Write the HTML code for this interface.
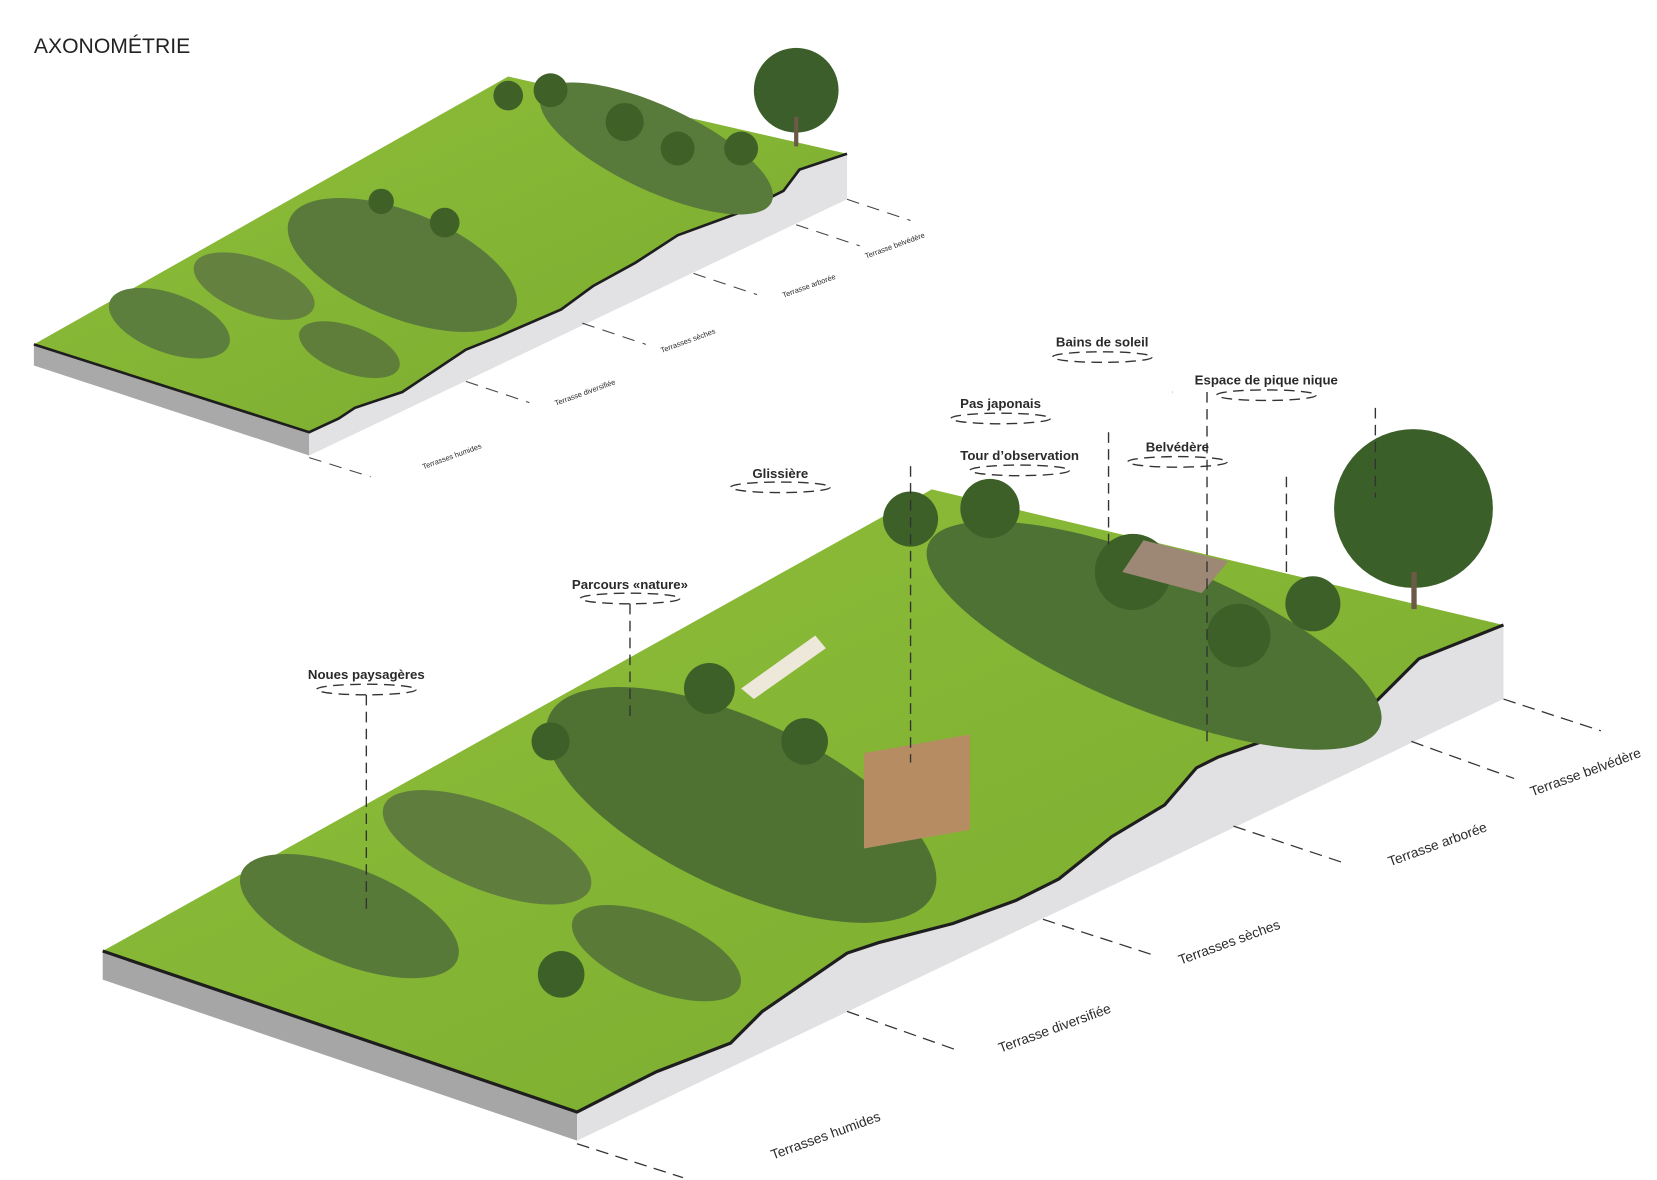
<!DOCTYPE html>
<html><head><meta charset="utf-8"><style>
html,body{margin:0;padding:0;background:#fff;}
svg{display:block;}
text{font-family:"Liberation Sans",sans-serif;fill:#2a2a2a;}
.c{font-weight:bold;font-size:12.5px;}
.t{font-size:13px;}
.s{font-size:7px;}
</style></head><body>
<svg width="1657" height="1180" viewBox="0 0 1565 1114" xmlns="http://www.w3.org/2000/svg">
<defs>
<linearGradient id="g1" x1="0" y1="0" x2="1" y2="1"><stop offset="0" stop-color="#8fbf3a"/><stop offset="1" stop-color="#79aa2e"/></linearGradient>
</defs>
<text x="32" y="50" style="font-size:20px;fill:#222">AXONOMÉTRIE</text>

<!-- UPPER BLOCK -->
<polygon points="32,325 292,408 292,430 32,345" fill="#a9a9a9"/>
<polygon points="292,408 320,395 335,385 380,370 440,330 470,318 530,292 560,270 600,248 640,222 700,200 740,180 755,160 800,145 800,188 292,430" fill="#e2e2e4"/>
<polygon points="32,325 292,408 320,395 335,385 380,370 440,330 470,318 530,292 560,270 600,248 640,222 700,200 740,180 755,160 800,145 480,72" fill="url(#g1)"/>
<polyline points="32,325 292,408 320,395 335,385 380,370 440,330 470,318 530,292 560,270 600,248 640,222 700,200 740,180 755,160 800,145" fill="none" stroke="#1e1e1e" stroke-width="2.5"/>
<ellipse cx="160" cy="305" rx="60" ry="28" fill="#5d7f3e" transform="rotate(20 160 305)"/>
<ellipse cx="240" cy="270" rx="60" ry="26" fill="#64813f" transform="rotate(20 240 270)"/>
<ellipse cx="330" cy="330" rx="50" ry="22" fill="#5e7e3a" transform="rotate(20 330 330)"/>
<ellipse cx="380" cy="250" rx="115" ry="50" fill="#5a7a3c" transform="rotate(22 380 250)"/>
<ellipse cx="620" cy="140" rx="120" ry="40" fill="#587a3a" transform="rotate(25 620 140)"/>
<g fill="#3f6128"><circle cx="480" cy="90" r="14"/><circle cx="520" cy="85" r="16"/><circle cx="590" cy="115" r="18"/><circle cx="640" cy="140" r="16"/><circle cx="700" cy="140" r="16"/><circle cx="420" cy="210" r="14"/><circle cx="360" cy="190" r="12"/></g>
<circle cx="752" cy="85" r="40" fill="#3b5e2a"/><rect x="750" y="110" width="4" height="28" fill="#6a5a46"/>
<g stroke="#444" stroke-width="1" stroke-dasharray="12,8" fill="none">
<line x1="292" y1="432" x2="350" y2="450"/><line x1="440" y1="360" x2="500" y2="380"/><line x1="550" y1="305" x2="610" y2="325"/><line x1="655" y1="258" x2="715" y2="278"/><line x1="752" y1="212" x2="812" y2="232"/><line x1="800" y1="188" x2="860" y2="208"/>
</g>
<text class="s" transform="translate(400,443) rotate(-20)">Terrasses humides</text>
<text class="s" transform="translate(525,383) rotate(-20)">Terrasse diversifiée</text>
<text class="s" transform="translate(625,333) rotate(-20)">Terrasses sèches</text>
<text class="s" transform="translate(740,281) rotate(-20)">Terrasse arborée</text>
<text class="s" transform="translate(818,244) rotate(-20)">Terrasse belvédère</text>

<!-- LOWER BLOCK -->
<polygon points="97,898 545,1050 545,1077 97,925" fill="#a6a6a6"/>
<polygon points="545,1050 600,1022 620,1012 690,985 720,955 800,900 830,890 900,872 960,850 1000,830 1050,790 1100,760 1130,725 1150,715 1300,662 1340,622 1420,590 1420,660 545,1077" fill="#e1e1e3"/>
<polygon points="97,898 545,1050 600,1022 620,1012 690,985 720,955 800,900 830,890 900,872 960,850 1000,830 1050,790 1100,760 1130,725 1150,715 1300,662 1340,622 1420,590 880,462" fill="url(#g1)"/>
<polyline points="97,898 545,1050 600,1022 620,1012 690,985 720,955 800,900 830,890 900,872 960,850 1000,830 1050,790 1100,760 1130,725 1150,715 1300,662 1340,622 1420,590" fill="none" stroke="#1e1e1e" stroke-width="3"/>
<ellipse cx="330" cy="865" rx="110" ry="45" fill="#587a38" transform="rotate(22 330 865)"/>
<ellipse cx="460" cy="800" rx="105" ry="40" fill="#5f7d3d" transform="rotate(22 460 800)"/>
<ellipse cx="620" cy="900" rx="85" ry="35" fill="#5a7a38" transform="rotate(22 620 900)"/>
<ellipse cx="700" cy="760" rx="200" ry="80" fill="#4f7233" transform="rotate(25 700 760)"/>
<ellipse cx="1090" cy="600" rx="230" ry="70" fill="#4d7234" transform="rotate(22 1090 600)"/>
<g fill="#3d6028"><circle cx="860" cy="490" r="26"/><circle cx="935" cy="480" r="28"/><circle cx="1070" cy="540" r="36"/><circle cx="1170" cy="600" r="30"/><circle cx="1240" cy="570" r="26"/><circle cx="670" cy="650" r="24"/><circle cx="520" cy="700" r="18"/><circle cx="760" cy="700" r="22"/><circle cx="530" cy="920" r="22"/></g>
<circle cx="1335" cy="480" r="75" fill="#3b5f29"/><rect x="1333" y="540" width="5" height="35" fill="#6a5a46"/>
<rect x="816" y="705" width="100" height="90" fill="#b68c62" transform="skewY(-10) translate(0,150)"/>
<polygon points="1080,510 1160,530 1135,560 1060,540" fill="#9c8874"/>
<polygon points="700,650 770,600 780,612 712,660" fill="#eee8da"/>
<g stroke="#333" stroke-width="1.2" stroke-dasharray="12,7" fill="none">
<line x1="545" y1="1080" x2="645" y2="1112"/><line x1="800" y1="955" x2="905" y2="992"/><line x1="985" y1="868" x2="1090" y2="902"/><line x1="1165" y1="780" x2="1270" y2="815"/><line x1="1333" y1="700" x2="1430" y2="735"/><line x1="1420" y1="660" x2="1512" y2="690"/>
</g>
<text class="t" transform="translate(730,1095) rotate(-20)">Terrasses humides</text>
<text class="t" transform="translate(945,994) rotate(-20)">Terrasse diversifiée</text>
<text class="t" transform="translate(1115,911) rotate(-20)">Terrasses sèches</text>
<text class="t" transform="translate(1313,818) rotate(-20)">Terrasse arborée</text>
<text class="t" transform="translate(1447,752) rotate(-20)">Terrasse belvédère</text>

<!-- callouts -->
<g stroke="#333" stroke-width="1.3" stroke-dasharray="10,6" fill="none">
<ellipse cx="1041" cy="337" rx="47" ry="5"/><ellipse cx="1196" cy="373" rx="47" ry="5"/><ellipse cx="945" cy="395" rx="47" ry="5"/><ellipse cx="1112" cy="436" rx="47" ry="5"/><ellipse cx="963" cy="444" rx="47" ry="5"/><ellipse cx="737" cy="460" rx="47" ry="5"/><ellipse cx="595" cy="565" rx="47" ry="5"/><ellipse cx="346" cy="651" rx="47" ry="5"/>
<line x1="1107" y1="370" x2="1107" y2="370"/>
<line x1="1047" y1="408" x2="1047" y2="520"/><line x1="1140" y1="370" x2="1140" y2="700"/><line x1="1215" y1="450" x2="1215" y2="540"/><line x1="1299" y1="385" x2="1299" y2="470"/><line x1="860" y1="440" x2="860" y2="720"/><line x1="595" y1="570" x2="595" y2="680"/><line x1="346" y1="656" x2="346" y2="860"/>
</g>
<g class="c" text-anchor="middle">
<text class="c" x="1041" y="327">Bains de soleil</text>
<text class="c" x="1196" y="363">Espace de pique nique</text>
<text class="c" x="945" y="385">Pas japonais</text>
<text class="c" x="1112" y="426">Belvédère</text>
<text class="c" x="963" y="434">Tour d’observation</text>
<text class="c" x="737" y="451">Glissière</text>
<text class="c" x="595" y="556">Parcours «nature»</text>
<text class="c" x="346" y="641">Noues paysagères</text>
</g>
</svg>
</body></html>
